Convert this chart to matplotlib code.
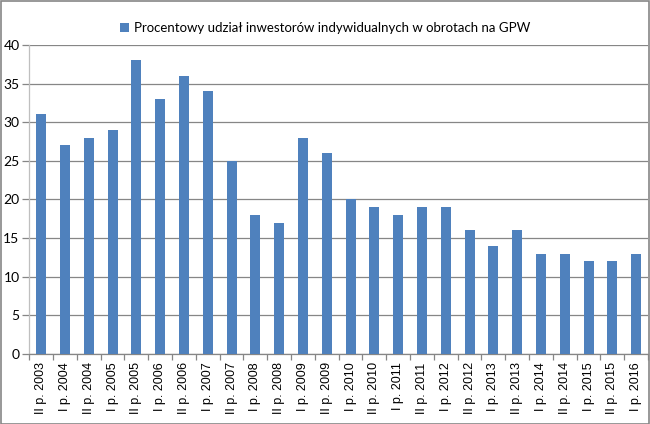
import matplotlib.pyplot as plt
from matplotlib.patches import Rectangle

labels = ['II p. 2003', 'I p. 2004', 'II p. 2004', 'I p. 2005', 'II p. 2005',
          'I p. 2006', 'II p. 2006', 'I p. 2007', 'II p. 2007', 'I p. 2008',
          'II p. 2008', 'I p. 2009', 'II p. 2009', 'I p. 2010', 'II p. 2010',
          'I p. 2011', 'II p. 2011', 'I p. 2012', 'II p. 2012', 'I p. 2013',
          'II p. 2013', 'I p. 2014', 'II p. 2014', 'I p. 2015', 'II p. 2015',
          'I p. 2016']
values = [31, 27, 28, 29, 38, 33, 36, 34, 25, 18, 17, 28, 26, 20, 19,
          18, 19, 19, 16, 14, 16, 13, 13, 12, 12, 13]
yticks = [0, 5, 10, 15, 20, 25, 30, 35, 40]
series_name = 'Procentowy udział inwestorów indywidualnych w obrotach na GPW'

bar_color = '#4F81BD'
grid_color = '#868686'

plt.rcParams['font.family'] = ['Liberation Sans', 'DejaVu Sans']

fig = plt.figure(figsize=(6.5, 4.24), dpi=100)
ax = fig.add_axes([0.045, 0.165, 0.952, 0.729])

x = list(range(len(values)))
ax.bar(x, values, width=0.42, color=bar_color, zorder=3, label=series_name)

ax.set_xlim(-0.5, len(values) - 0.5)
ax.set_ylim(0, 40)
ax.set_yticks(yticks)
ax.set_yticklabels([str(v) for v in yticks], family=['Lato', 'DejaVu Sans'], fontsize=10)
ax.yaxis.grid(True, color=grid_color, linewidth=0.9, zorder=0)
ax.tick_params(axis='y', length=5, color=grid_color, width=0.9, pad=2)

ax.set_xticks(x)
ax.set_xticklabels(labels, rotation=90, fontsize=9)
ax.tick_params(axis='x', length=0, pad=6)
ax.set_xticks([i - 0.5 for i in range(len(values) + 1)], minor=True)
ax.tick_params(axis='x', which='minor', length=4, color=grid_color, width=0.9)

for side in ['top', 'right']:
    ax.spines[side].set_visible(False)
ax.spines['left'].set_color('#BFBFBF')
ax.spines['bottom'].set_color(grid_color)
ax.spines['left'].set_linewidth(0.9)
ax.spines['bottom'].set_linewidth(0.9)

fig.legend(loc='center', bbox_to_anchor=(0.5, 0.934), frameon=False,
           handlelength=0.7, handleheight=0.7, handletextpad=0.4,
           prop={'family': ['Lato', 'DejaVu Sans'], 'size': 9.5})

fig.patches.append(Rectangle((0.001, 0.001), 0.997, 0.997, transform=fig.transFigure,
                             fill=False, edgecolor='#868686', linewidth=1.2))

fig.savefig('out.png', dpi=100)
